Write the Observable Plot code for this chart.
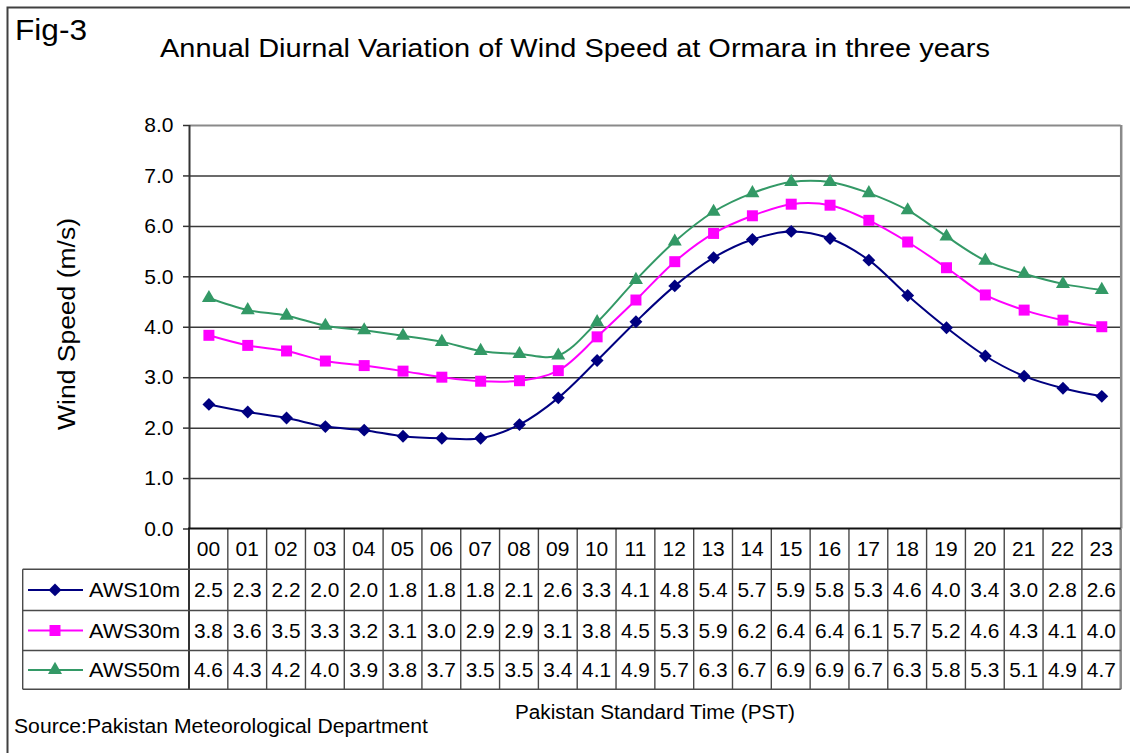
<!DOCTYPE html>
<html><head><meta charset="utf-8">
<script src="https://cdn.jsdelivr.net/npm/d3@7"></script>
<script src="https://cdn.jsdelivr.net/npm/@observablehq/plot@0.6"></script>
<style>
html,body{margin:0;padding:0;background:#fff;}
#chart{width:1130px;height:753px;overflow:hidden;position:relative;}
</style></head><body><div id="chart"></div>
<script>
// ---- data ----
const hours = ["00","01","02","03","04","05","06","07","08","09","10","11","12","13","14","15","16","17","18","19","20","21","22","23"];
const seriesNames = ["AWS10m","AWS30m","AWS50m"];
const aws10m = [2.47,2.32,2.20,2.03,1.96,1.84,1.80,1.80,2.07,2.60,3.34,4.11,4.82,5.38,5.74,5.90,5.76,5.33,4.63,3.99,3.43,3.03,2.79,2.63];
const aws30m = [3.84,3.64,3.53,3.33,3.24,3.13,3.01,2.93,2.94,3.14,3.81,4.54,5.30,5.86,6.21,6.44,6.42,6.12,5.69,5.18,4.64,4.34,4.14,4.01];
const aws50m = [4.58,4.34,4.23,4.03,3.94,3.83,3.71,3.53,3.47,3.44,4.10,4.94,5.70,6.29,6.66,6.88,6.88,6.66,6.32,5.80,5.32,5.06,4.86,4.74];
const yTicks = [0,1,2,3,4,5,6,7,8];
const figLabel = "Fig-3";
const titleText = "Annual Diurnal Variation of Wind Speed at Ormara in three years";
const yTitle = "Wind Speed (m/s)";
const xTitle = "Pakistan Standard Time (PST)";
const sourceText = "Source:Pakistan Meteorological Department";

// ---- build ----
const seriesValues = [aws10m, aws30m, aws50m];
const rows = seriesNames.flatMap((name, s) => seriesValues[s].map((v, i) => ({series: name, hour: i, value: v})));

const colors = {AWS10m: "#000080", AWS30m: "#FF00FF", AWS50m: "#339966"};
const symbolNames = {AWS10m: "diamond2", AWS30m: "square", AWS50m: "triangle"};
const d3Symbols = {AWS10m: d3.symbolDiamond2, AWS30m: d3.symbolSquare, AWS50m: d3.symbolTriangle};
const radius = {AWS10m: 5.8, AWS30m: 6.2, AWS50m: 5.2};
const FONT = "Liberation Sans, Arial, Helvetica, sans-serif";

const W = 1130, H = 753;
const pLeft = 189, pRight = 1120.7, pTop = 125, pBottom = 528.5;

const plot = Plot.plot({
  width: W, height: H,
  marginLeft: pLeft, marginRight: W - pRight, marginTop: pTop, marginBottom: H - pBottom,
  style: {fontFamily: FONT, fontSize: "20px", background: "#fff", color: "#000", overflow: "visible"},
  x: {domain: [-0.5, 23.5], axis: null},
  y: {domain: [0, 8], axis: null},
  marks: [
    Plot.ruleY(yTicks.filter(d => d > 0 && d < 8), {stroke: "#3a3a3a", strokeWidth: 1.5}),
    Plot.ruleY([8], {stroke: "#8a8a8a", strokeWidth: 2}),
    Plot.ruleX([23.5], {stroke: "#8a8a8a", strokeWidth: 2.5}),
    Plot.axisY({ticks: yTicks, tickFormat: d3.format(".1f"), tickSize: 6, tickPadding: 10, label: null, fontSize: 21, stroke: "#333", strokeWidth: 1.5}),
    Plot.ruleX([-0.5], {stroke: "#333", strokeWidth: 2}),
    ...seriesNames.map(name => Plot.line(rows.filter(d => d.series === name), {
      x: "hour", y: "value", stroke: colors[name], strokeWidth: 2, curve: "catmull-rom"
    })),
    ...seriesNames.map(name => Plot.dot(rows.filter(d => d.series === name), {
      x: "hour", y: "value", symbol: symbolNames[name], r: radius[name], fill: colors[name], stroke: "none"
    }))
  ]
});

document.getElementById("chart").appendChild(plot);

const svg = d3.select(plot);
const xs = plot.scale("x");
const X = v => xs.apply(v);

// outer frame (left and top visible)
svg.append("path").attr("d", `M7.5,${H} V7.5 H${W}`).attr("fill", "none").attr("stroke", "#404040").attr("stroke-width", 2);

// texts
const addText = (txt, x, y, size, opts = {}) => {
  const t = svg.append("text").attr("x", x).attr("y", y).attr("font-family", FONT)
    .attr("font-size", size).attr("fill", "#000").attr("stroke", "none")
    .attr("text-anchor", opts.anchor || "start").text(txt);
  if (opts.len) t.attr("textLength", opts.len).attr("lengthAdjust", "spacingAndGlyphs");
  if (opts.transform) t.attr("transform", opts.transform);
  return t;
};
addText(figLabel, 15, 39.5, 30, {len: 72});
addText(titleText, 160, 57, 26, {len: 830});
addText(yTitle, 0, 0, 23, {anchor: "middle", len: 212, transform: "translate(75,324) rotate(-90)"});
addText(xTitle, 655, 719, 20, {anchor: "middle", len: 280});
addText(sourceText, 14, 733, 20, {len: 414});

// data table
const tTop = pBottom, hdrBottom = 569.3;
const rowEdges = [569.3, 610.5, 650.5, 689.3];
const legendLeft = 22.7;
const g = svg.append("g").attr("stroke", "#4a4a4a").attr("stroke-width", 1.4).attr("fill", "none");
d3.range(25).forEach(i => {
  const xx = X(i - 0.5);
  g.append("line").attr("x1", xx).attr("x2", xx).attr("y1", tTop).attr("y2", rowEdges[3])
    .attr("stroke", i === 0 ? "#333" : (i === 24 ? "#8a8a8a" : "#4a4a4a")).attr("stroke-width", i === 0 ? 2 : (i === 24 ? 2.5 : 1.4));
});
rowEdges.forEach(yy => {
  g.append("line").attr("x1", legendLeft).attr("x2", X(23.5)).attr("y1", yy).attr("y2", yy);
});
g.append("line").attr("x1", legendLeft).attr("x2", legendLeft).attr("y1", rowEdges[0]).attr("y2", rowEdges[3]);
svg.append("line").attr("x1", X(-0.5) - 1).attr("x2", X(23.5)).attr("y1", pBottom).attr("y2", pBottom)
  .attr("stroke", "#111").attr("stroke-width", 2);

hours.forEach((h, i) => {
  addText(h, X(i), (tTop + hdrBottom) / 2 + 7.5, 21, {anchor: "middle"});
});
const fmt = d3.format(".1f");
seriesNames.forEach((name, s) => {
  const y0 = rowEdges[s], y1 = rowEdges[s + 1];
  const cy = (y0 + y1) / 2;
  seriesValues[s].forEach((v, i) => addText(fmt(v), X(i), cy + 7.5, 21, {anchor: "middle", len: 29}));
  svg.append("line").attr("x1", 28).attr("x2", 83).attr("y1", cy).attr("y2", cy)
    .attr("stroke", colors[name]).attr("stroke-width", 2);
  svg.append("path").attr("d", d3.symbol(d3Symbols[name], Math.PI * radius[name] ** 2)())
    .attr("transform", `translate(55,${cy})`).attr("fill", colors[name]).attr("stroke", "none");
  addText(name, 89, cy + 7.5, 21, {len: 91});
});
</script>
</body></html>
